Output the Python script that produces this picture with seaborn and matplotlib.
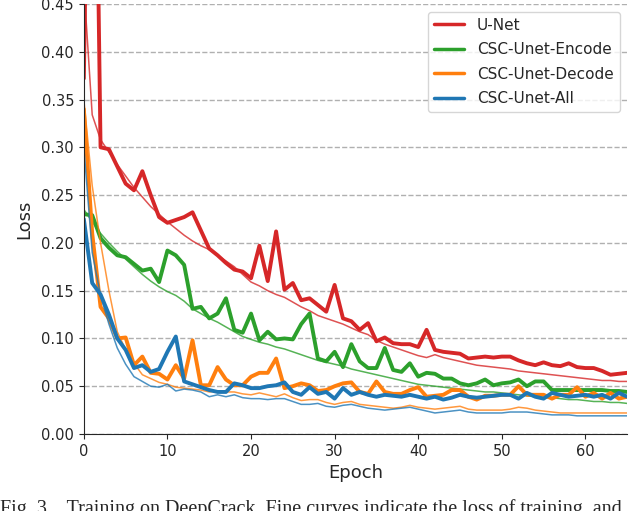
import matplotlib
matplotlib.use("Agg")
import matplotlib.pyplot as plt
import seaborn as sns
import pandas as pd

epochs = list(range(66))

unet_val = [0.372, 0.93, 0.300, 0.298, 0.280, 0.262, 0.255, 0.275, 0.250, 0.227,
            0.221, 0.224, 0.227, 0.232, 0.213, 0.194, 0.187, 0.179, 0.172, 0.170,
            0.163, 0.197, 0.160, 0.212, 0.151, 0.158, 0.140, 0.142, 0.135, 0.128,
            0.156, 0.121, 0.118, 0.109, 0.116, 0.097, 0.101, 0.095, 0.094, 0.094,
            0.091, 0.109, 0.088, 0.086, 0.085, 0.084, 0.079, 0.080, 0.081, 0.080,
            0.081, 0.081, 0.077, 0.074, 0.072, 0.075, 0.072, 0.071, 0.074, 0.070,
            0.069, 0.069, 0.066, 0.062, 0.063, 0.064]
unet_train = [0.470, 0.334, 0.308, 0.295, 0.282, 0.270, 0.258, 0.248, 0.238, 0.230,
              0.222, 0.215, 0.208, 0.202, 0.197, 0.193, 0.187, 0.181, 0.175, 0.167,
              0.159, 0.155, 0.150, 0.146, 0.143, 0.138, 0.133, 0.129, 0.124, 0.121,
              0.118, 0.115, 0.111, 0.107, 0.104, 0.098, 0.094, 0.091, 0.088, 0.085,
              0.082, 0.080, 0.083, 0.080, 0.078, 0.076, 0.074, 0.072, 0.071, 0.070,
              0.069, 0.068, 0.066, 0.065, 0.064, 0.063, 0.062, 0.061, 0.060, 0.059,
              0.058, 0.057, 0.056, 0.056, 0.055, 0.055]
encode_val = [0.230, 0.229, 0.205, 0.195, 0.187, 0.185, 0.178, 0.171, 0.173, 0.159,
              0.192, 0.187, 0.177, 0.131, 0.133, 0.121, 0.126, 0.142, 0.109, 0.106,
              0.126, 0.098, 0.107, 0.099, 0.100, 0.099, 0.115, 0.126, 0.079, 0.076,
              0.086, 0.070, 0.094, 0.076, 0.069, 0.069, 0.090, 0.067, 0.065, 0.074,
              0.060, 0.064, 0.063, 0.058, 0.058, 0.053, 0.051, 0.053, 0.057, 0.051,
              0.053, 0.054, 0.057, 0.050, 0.055, 0.055, 0.046, 0.046, 0.046, 0.046,
              0.046, 0.046, 0.046, 0.045, 0.045, 0.044]
encode_train = [0.235, 0.222, 0.210, 0.200, 0.191, 0.183, 0.175, 0.167, 0.160, 0.154,
                0.149, 0.145, 0.139, 0.131, 0.126, 0.121, 0.117, 0.112, 0.107, 0.102,
                0.099, 0.096, 0.094, 0.091, 0.089, 0.086, 0.083, 0.080, 0.077, 0.075,
                0.073, 0.071, 0.068, 0.066, 0.064, 0.062, 0.060, 0.058, 0.056, 0.054,
                0.052, 0.051, 0.050, 0.049, 0.048, 0.047, 0.046, 0.045, 0.044, 0.044,
                0.043, 0.042, 0.041, 0.040, 0.039, 0.038, 0.038, 0.037, 0.036, 0.036,
                0.035, 0.034, 0.034, 0.033, 0.033, 0.032]
decode_val = [0.340, 0.210, 0.133, 0.121, 0.100, 0.101, 0.072, 0.081, 0.064, 0.063,
              0.057, 0.072, 0.058, 0.098, 0.051, 0.051, 0.070, 0.057, 0.051, 0.051,
              0.060, 0.064, 0.064, 0.079, 0.048, 0.050, 0.053, 0.051, 0.045, 0.046,
              0.050, 0.053, 0.054, 0.044, 0.042, 0.055, 0.044, 0.042, 0.042, 0.046,
              0.049, 0.039, 0.040, 0.041, 0.046, 0.046, 0.039, 0.036, 0.040, 0.040,
              0.041, 0.041, 0.050, 0.041, 0.041, 0.041, 0.037, 0.041, 0.041, 0.049,
              0.039, 0.043, 0.037, 0.043, 0.037, 0.039]
decode_train = [0.350, 0.260, 0.200, 0.150, 0.107, 0.088, 0.074, 0.062, 0.058, 0.054,
                0.052, 0.049, 0.048, 0.047, 0.046, 0.044, 0.045, 0.044, 0.044, 0.042,
                0.041, 0.043, 0.041, 0.039, 0.042, 0.038, 0.035, 0.036, 0.036, 0.033,
                0.031, 0.033, 0.034, 0.031, 0.030, 0.029, 0.028, 0.027, 0.028, 0.030,
                0.028, 0.027, 0.026, 0.027, 0.028, 0.029, 0.026, 0.025, 0.025, 0.025,
                0.025, 0.026, 0.028, 0.027, 0.025, 0.024, 0.023, 0.022, 0.022, 0.022,
                0.022, 0.022, 0.022, 0.022, 0.022, 0.022]
all_val = [0.225, 0.158, 0.146, 0.125, 0.100, 0.088, 0.069, 0.072, 0.065, 0.068,
           0.086, 0.102, 0.055, 0.052, 0.049, 0.046, 0.044, 0.044, 0.053, 0.051,
           0.048, 0.048, 0.050, 0.051, 0.054, 0.044, 0.041, 0.049, 0.042, 0.044,
           0.037, 0.048, 0.041, 0.044, 0.041, 0.039, 0.041, 0.040, 0.039, 0.041,
           0.039, 0.037, 0.039, 0.036, 0.038, 0.041, 0.039, 0.038, 0.039, 0.040,
           0.041, 0.041, 0.037, 0.043, 0.039, 0.037, 0.043, 0.041, 0.039, 0.040,
           0.041, 0.039, 0.041, 0.037, 0.043, 0.039]
all_train = [0.300, 0.190, 0.145, 0.115, 0.090, 0.073, 0.060, 0.055, 0.050, 0.049,
             0.052, 0.045, 0.047, 0.046, 0.044, 0.039, 0.041, 0.039, 0.041, 0.038,
             0.037, 0.037, 0.036, 0.037, 0.037, 0.034, 0.031, 0.031, 0.032, 0.029,
             0.028, 0.030, 0.031, 0.029, 0.027, 0.026, 0.025, 0.026, 0.027, 0.028,
             0.026, 0.024, 0.022, 0.023, 0.024, 0.025, 0.023, 0.022, 0.022, 0.022,
             0.022, 0.023, 0.023, 0.023, 0.022, 0.021, 0.020, 0.020, 0.020, 0.019,
             0.019, 0.019, 0.019, 0.019, 0.019, 0.019]

series_names = ["U-Net", "CSC-Unet-Encode", "CSC-Unet-Decode", "CSC-Unet-All"]
colors = ["#d62728", "#2ca02c", "#ff7f0e", "#1f77b4"]
val_data = [unet_val, encode_val, decode_val, all_val]
train_data = [unet_train, encode_train, decode_train, all_train]
yticks = [0.00, 0.05, 0.10, 0.15, 0.20, 0.25, 0.30, 0.35, 0.40, 0.45]
xticks = [0, 10, 20, 30, 40, 50, 60]
caption = "Fig. 3.   Training on DeepCrack. Fine curves indicate the loss of training, and"

sns.set_style("ticks")
plt.rcParams['font.family'] = ['DejaVu Sans']

fig = plt.figure(figsize=(6.4, 5.11), dpi=100)
ax = fig.add_axes([0.131, 0.1507, 0.849, 0.8415])

for name, col, tr, va in zip(series_names, colors, train_data, val_data):
    dtr = pd.DataFrame({"Epoch": epochs, "Loss": tr})
    dva = pd.DataFrame({"Epoch": epochs, "Loss": va})
    sns.lineplot(data=dtr, x="Epoch", y="Loss", ax=ax, color=col, lw=1.1,
                 alpha=0.8, label="_nolegend_")
    sns.lineplot(data=dva, x="Epoch", y="Loss", ax=ax, color=col, lw=2.8,
                 label=name)

ax.set_xlim(0, 65)
ax.set_ylim(0, 0.45)
ax.set_yticks(yticks)
ax.set_yticklabels([f"{v:.2f}" for v in yticks])
ax.set_xticks(xticks)
ax.tick_params(labelsize=10.5)
ax.yaxis.grid(True, linestyle="--", color="#b0b0b0", lw=1)
ax.set_axisbelow(True)
sns.despine(ax=ax)
ax.set_xlabel("Epoch", fontsize=13, labelpad=4)
ax.set_ylabel("Loss", fontsize=13, labelpad=6)

leg = ax.legend(loc="upper right", fontsize=11, frameon=True, borderaxespad=0.5,
                handlelength=2.0, labelspacing=0.62)
for line in leg.get_lines():
    line.set_linewidth(2.5)

fig.text(0.0, 0.003, caption, fontsize=14.5, family="Liberation Serif",
         ha="left", va="center")

fig.savefig("out.png", dpi=100)
